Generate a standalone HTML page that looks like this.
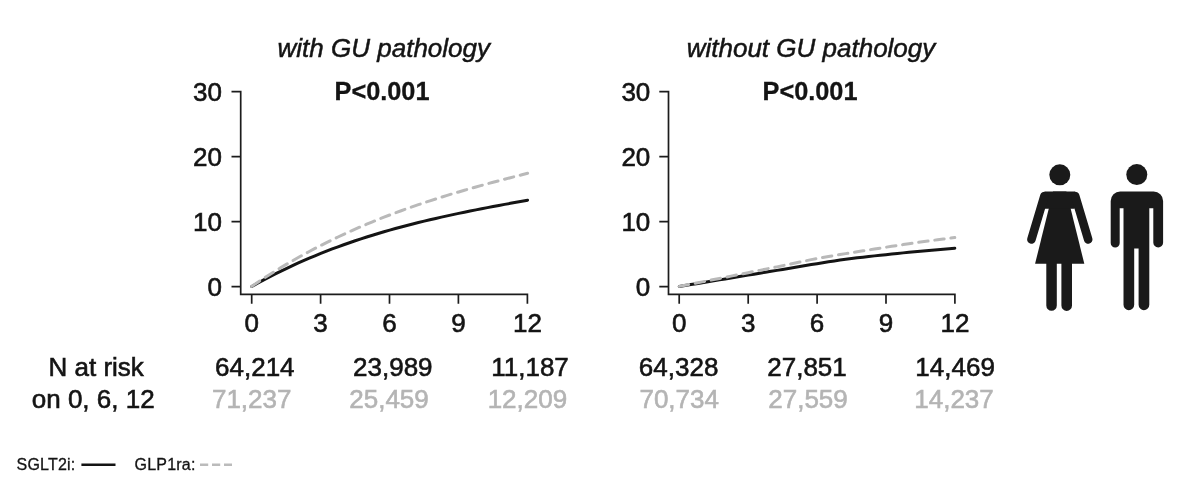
<!DOCTYPE html>
<html><head><meta charset="utf-8">
<style>
html,body{margin:0;padding:0;background:#fff;}
svg{display:block;font-family:"Liberation Sans",sans-serif;}
.ax{stroke:#1c1c1c;stroke-width:1.7;fill:none;}
.t{font-size:26px;fill:#141414;stroke:#141414;stroke-width:0.6px;}
.g{font-size:26px;fill:#b4b4b4;stroke:#b4b4b4;stroke-width:0.6px;}
.i{font-size:26px;font-style:italic;fill:#141414;stroke:#141414;stroke-width:0.5px;}
.b{font-size:25.3px;font-weight:bold;fill:#141414;stroke:#141414;stroke-width:0.3px;}
.l{font-size:16px;fill:#141414;letter-spacing:0.2px;stroke:#141414;stroke-width:0.3px;}
.sol{fill:none;stroke:#141414;stroke-width:3;stroke-linecap:round;stroke-linejoin:round;}
.das{fill:none;stroke:#b9b9b9;stroke-width:3;stroke-linecap:round;stroke-linejoin:round;stroke-dasharray:9.5 6.73;}
</style></head><body>
<svg width="1200" height="489" viewBox="0 0 1200 489">
<rect width="1200" height="489" fill="#fff"/>
<!-- titles -->
<text class="i" x="383.8" y="56.8" text-anchor="middle">with GU pathology</text>
<text class="i" x="811" y="56.8" text-anchor="middle">without GU pathology</text>
<text class="b" x="382" y="100.2" text-anchor="middle">P&lt;0.001</text>
<text class="b" x="810" y="100.2" text-anchor="middle">P&lt;0.001</text>

<!-- left chart -->
<g id="c1">
<path class="ax" d="M231.5 91.7H240.7V294.4H527.4V303.8 M231.5 156.7H240.7 M231.5 221.7H240.7 M231.5 286.7H240.7 M251.7 294.4V303.8 M320.6 294.4V303.8 M389.5 294.4V303.8 M458.4 294.4V303.8"/>
<text class="t" x="222" y="100.5" text-anchor="end">30</text>
<text class="t" x="222" y="165.5" text-anchor="end">20</text>
<text class="t" x="222" y="230.5" text-anchor="end">10</text>
<text class="t" x="222" y="295.5" text-anchor="end">0</text>
<text class="t" x="251.7" y="332.1" text-anchor="middle">0</text>
<text class="t" x="320.6" y="332.1" text-anchor="middle">3</text>
<text class="t" x="389.5" y="332.1" text-anchor="middle">6</text>
<text class="t" x="458.4" y="332.1" text-anchor="middle">9</text>
<text class="t" x="527.4" y="332.1" text-anchor="middle">12</text>
<path class="sol" d="M251.8 286.50 L257.5 283.30 L263.3 280.18 L269.0 277.16 L274.8 274.21 L280.5 271.35 L286.3 268.57 L292.0 265.86 L297.8 263.23 L303.5 260.68 L309.3 258.20 L315.0 255.79 L320.8 253.45 L326.5 251.18 L332.2 248.97 L338.0 246.82 L343.7 244.74 L349.5 242.72 L355.2 240.76 L361.0 238.85 L366.7 237.00 L372.5 235.20 L378.2 233.46 L384.0 231.76 L389.7 230.11 L395.4 228.51 L401.2 226.95 L406.9 225.43 L412.7 223.95 L418.4 222.52 L424.2 221.12 L429.9 219.75 L435.7 218.42 L441.4 217.12 L447.2 215.85 L452.9 214.61 L458.7 213.39 L464.4 212.20 L470.1 211.03 L475.9 209.88 L481.6 208.76 L487.4 207.64 L493.1 206.55 L498.9 205.47 L504.6 204.40 L510.4 203.34 L516.1 202.28 L521.9 201.24 L527.6 200.20"/>
<path class="das" d="M251.8 286.30 L257.5 282.43 L263.3 278.65 L269.0 274.96 L274.8 271.36 L280.5 267.84 L286.3 264.40 L292.0 261.05 L297.8 257.78 L303.5 254.59 L309.3 251.48 L315.0 248.44 L320.8 245.47 L326.5 242.58 L332.2 239.75 L338.0 237.00 L343.7 234.31 L349.5 231.69 L355.2 229.13 L361.0 226.63 L366.7 224.19 L372.5 221.81 L378.2 219.49 L384.0 217.22 L389.7 215.00 L395.4 212.84 L401.2 210.73 L406.9 208.66 L412.7 206.64 L418.4 204.66 L424.2 202.73 L429.9 200.84 L435.7 198.99 L441.4 197.17 L447.2 195.39 L452.9 193.65 L458.7 191.94 L464.4 190.25 L470.1 188.60 L475.9 186.98 L481.6 185.38 L487.4 183.80 L493.1 182.25 L498.9 180.72 L504.6 179.20 L510.4 177.71 L516.1 176.22 L521.9 174.76 L527.6 173.30"/>
</g>

<!-- right chart -->
<g id="c2">
<path class="ax" d="M659.3 91.7H668.5V294.4H954.9V303.8 M659.3 156.7H668.5 M659.3 221.7H668.5 M659.3 286.7H668.5 M679.2 294.4V303.8 M748.2 294.4V303.8 M817.1 294.4V303.8 M886 294.4V303.8"/>
<text class="t" x="650.3" y="100.5" text-anchor="end">30</text>
<text class="t" x="650.3" y="165.5" text-anchor="end">20</text>
<text class="t" x="650.3" y="230.5" text-anchor="end">10</text>
<text class="t" x="650.3" y="295.5" text-anchor="end">0</text>
<text class="t" x="679.2" y="332.1" text-anchor="middle">0</text>
<text class="t" x="748.2" y="332.1" text-anchor="middle">3</text>
<text class="t" x="817.1" y="332.1" text-anchor="middle">6</text>
<text class="t" x="886" y="332.1" text-anchor="middle">9</text>
<text class="t" x="954.9" y="332.1" text-anchor="middle">12</text>
<path class="sol" d="M679.3 286.50 L685.0 285.55 L690.8 284.60 L696.5 283.65 L702.3 282.71 L708.0 281.76 L713.7 280.81 L719.5 279.86 L725.2 278.91 L731.0 277.96 L736.7 277.01 L742.4 276.06 L748.2 275.11 L753.9 274.16 L759.7 273.22 L765.4 272.27 L771.1 271.32 L776.9 270.37 L782.6 269.41 L788.4 268.46 L794.1 267.48 L799.8 266.51 L805.6 265.54 L811.3 264.60 L817.0 263.67 L822.8 262.75 L828.5 261.84 L834.3 260.95 L840.0 260.10 L845.7 259.31 L851.5 258.56 L857.2 257.85 L863.0 257.17 L868.7 256.52 L874.4 255.88 L880.2 255.25 L885.9 254.64 L891.7 254.03 L897.4 253.44 L903.1 252.87 L908.9 252.30 L914.6 251.75 L920.4 251.21 L926.1 250.68 L931.8 250.16 L937.6 249.66 L943.3 249.16 L949.1 248.67 L954.8 248.20"/>
<path class="das" d="M679.3 286.40 L685.0 285.27 L690.8 284.14 L696.5 283.00 L702.3 281.86 L708.0 280.72 L713.7 279.58 L719.5 278.43 L725.2 277.28 L731.0 276.13 L736.7 274.98 L742.4 273.82 L748.2 272.66 L753.9 271.51 L759.7 270.35 L765.4 269.19 L771.1 268.02 L776.9 266.86 L782.6 265.68 L788.4 264.50 L794.1 263.30 L799.8 262.07 L805.6 260.82 L811.3 259.64 L817.0 258.56 L822.8 257.52 L828.5 256.51 L834.3 255.53 L840.0 254.57 L845.7 253.61 L851.5 252.66 L857.2 251.73 L863.0 250.81 L868.7 249.91 L874.4 249.01 L880.2 248.12 L885.9 247.23 L891.7 246.34 L897.4 245.45 L903.1 244.57 L908.9 243.71 L914.6 242.88 L920.4 242.07 L926.1 241.28 L931.8 240.51 L937.6 239.76 L943.3 239.02 L949.1 238.30 L954.8 237.60"/>
</g>

<!-- N at risk -->
<text class="t" x="96.2" y="375.6" text-anchor="middle">N at risk</text>
<text class="t" x="93.2" y="408" text-anchor="middle">on 0, 6, 12</text>
<text class="t" x="254.8" y="376" text-anchor="middle">64,214</text>
<text class="t" x="392.8" y="376" text-anchor="middle">23,989</text>
<text class="t" x="530" y="376" text-anchor="middle">11,187</text>
<text class="g" x="251.7" y="408" text-anchor="middle">71,237</text>
<text class="g" x="389" y="408" text-anchor="middle">25,459</text>
<text class="g" x="527.4" y="408" text-anchor="middle">12,209</text>
<text class="t" x="678.6" y="376" text-anchor="middle">64,328</text>
<text class="t" x="807" y="376" text-anchor="middle">27,851</text>
<text class="t" x="955.1" y="376" text-anchor="middle">14,469</text>
<text class="g" x="679.2" y="408" text-anchor="middle">70,734</text>
<text class="g" x="808" y="408" text-anchor="middle">27,559</text>
<text class="g" x="954" y="408" text-anchor="middle">14,237</text>

<!-- legend -->
<text class="l" x="16.6" y="470.4">SGLT2i:</text>
<path d="M81.4 464.8H115.5" stroke="#141414" stroke-width="2.5" fill="none"/>
<text class="l" x="134.6" y="470.4">GLP1ra:</text>
<path d="M200 464.8H232" stroke="#bbbbbb" stroke-width="2.4" stroke-dasharray="8.2 3.8" fill="none"/>

<!-- people icons -->
<g id="female" fill="#1a1a1a" stroke="none">
<circle cx="1059.8" cy="174.8" r="10.5"/>
<polygon points="1053,191.4 1066.4,191.4 1084.3,263.7 1035.1,263.7"/>
<polygon points="1044.8,191.4 1074.8,191.4 1079,200 1074.4,208.7 1045,208.7 1040.5,200"/>
<path d="M1044.4 196 L1031.4 239.5 M1075.2 196 L1088.2 239.5" stroke="#1a1a1a" stroke-width="8.6" stroke-linecap="round" fill="none"/>
<path d="M1046.3 260 V305.6 a5.25 5.25 0 0 0 10.5 0 V260Z M1061.4 260 V305.6 a5.3 5.3 0 0 0 10.6 0 V260Z"/>
</g>
<g id="male" fill="#1a1a1a" stroke="none">
<circle cx="1136.8" cy="174.6" r="10.5"/>
<path d="M1110.7 200.9 a9.5 9.5 0 0 1 9.5 -9.5 H1153.6 a9.5 9.5 0 0 1 9.5 9.5 V242.6 a4.9 4.9 0 0 1 -9.8 0 V208.3 H1149.3 V304.8 a5.35 5.35 0 0 1 -10.7 0 V248.4 H1134.2 V304.8 a5.35 5.35 0 0 1 -10.7 0 V208.3 H1119.7 V243 a4.5 4.5 0 0 1 -9 0 Z"/>
</g>
</svg>
</body></html>
